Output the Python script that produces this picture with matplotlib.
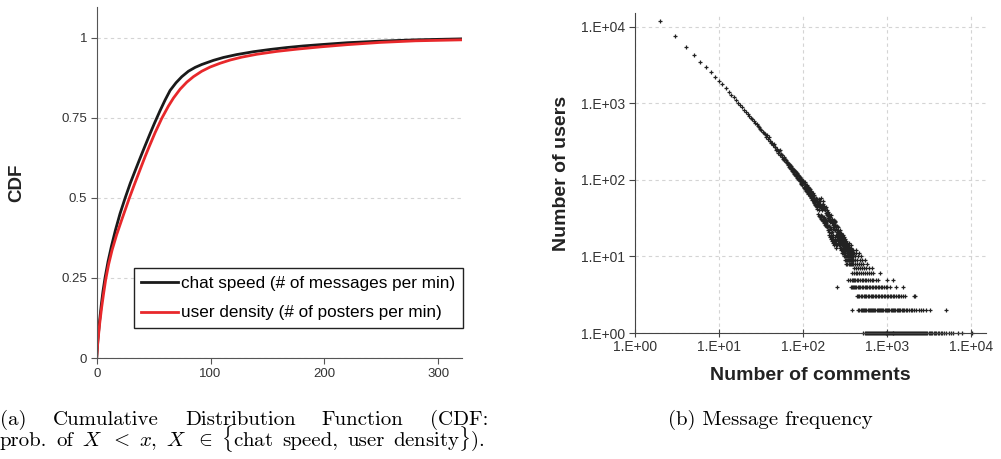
import matplotlib.pyplot as plt
import numpy as np

plt.rcParams['font.family'] = ['Liberation Sans', 'DejaVu Sans']
plt.rcParams['mathtext.fontset'] = 'cm'

# (a) CDF curves
speed_x = [0, 1, 2.5, 4, 5.5, 7.3, 10, 13, 16.5, 20.5, 25, 29.5, 34.3, 37.3, 40, 42.5, 46.9, 50.7, 55.7,
           60.1, 64.5, 69.7, 74.8, 80.6, 86.5, 92.3, 102.6, 111.4, 123, 137.8, 152.4, 167, 181.7, 196.4,
           220, 249, 280, 320]
speed_cdf = [0, 0.055, 0.115, 0.165, 0.208, 0.25, 0.302, 0.35, 0.4, 0.451, 0.5, 0.546, 0.59, 0.617, 0.641,
             0.663, 0.701, 0.733, 0.773, 0.806, 0.836, 0.86, 0.879, 0.896, 0.908, 0.917, 0.93, 0.939, 0.948,
             0.957, 0.964, 0.97, 0.975, 0.979, 0.985, 0.99, 0.994, 0.997]
density_x = [0, 1, 2.6, 4.3, 6, 7.9, 10.5, 13.5, 17.5, 22, 28.7, 33.1, 38.7, 42.5, 46.3, 51.3, 57.2, 63, 67.4,
             73.3, 79.2, 85, 92.3, 99.6, 108.5, 117.3, 127.5, 140.7, 158.3, 176, 196.4, 220, 249, 280, 320]
density_cdf = [0, 0.05, 0.107, 0.157, 0.2, 0.245, 0.293, 0.337, 0.385, 0.432, 0.5, 0.542, 0.594, 0.629, 0.662,
               0.704, 0.749, 0.787, 0.812, 0.84, 0.862, 0.879, 0.896, 0.909, 0.921, 0.931, 0.94, 0.949, 0.958,
               0.965, 0.972, 0.979, 0.986, 0.991, 0.994]
cdf_ticks = [0, 0.25, 0.5, 0.75, 1]
cdf_labels = ['0', '0.25', '0.5', '0.75', '1']
legend_labels = ['chat speed (# of messages per min)', 'user density (# of posters per min)']

# (b) number of users per comment count, comment counts 2..400
comment_counts = np.arange(2, 401)
users = [12000, 7600, 5400, 4250, 3450, 2950, 2550, 2240, 1990,
         1770, 1590, 1430, 1305, 1200, 1100, 1020, 950, 887, 832,
         780, 735, 690, 653, 618, 587, 559, 532, 508, 485,
         465, 446, 427, 411, 395, 362, 385, 340, 366, 318,
         326, 301, 305, 284, 291, 266, 270, 249, 257, 236,
         228, 241, 247, 209, 218, 199, 210, 187, 198, 180,
         190, 171, 181, 164, 172, 158, 168, 149, 161, 144,
         155, 139, 150, 131, 143, 127, 138, 136, 121, 130,
         117, 128, 112, 124, 107, 119, 104, 115, 113, 99,
         110, 96, 105, 92, 103, 88, 99, 85, 97, 94,
         97, 82, 91, 78, 88, 93, 76, 84, 71, 80,
         86, 70, 77, 81, 65, 74, 79, 67, 72, 62,
         75, 64, 69, 58, 71, 60, 66, 55, 63, 68,
         54, 61, 57, 50, 64, 52, 58, 47, 56, 53,
         49, 58, 45, 54, 51, 44, 57, 48, 42, 50,
         52, 36, 49, 40, 57, 34, 46, 53, 33, 44,
         49, 35, 46, 31, 43, 58, 34, 47, 30, 41,
         48, 31, 53, 29, 44, 33, 27, 42, 30, 45,
         26, 43, 31, 29, 40, 25, 37, 30, 44, 27,
         36, 24, 29, 40, 26, 35, 22, 32, 38, 25,
         34, 22, 30, 19, 36, 25, 21, 31, 18, 28,
         24, 33, 20, 17, 30, 23, 35, 19, 27, 16,
         29, 21, 18, 31, 24, 15, 23, 28, 17, 26,
         19, 30, 16, 24, 27, 14, 23, 18, 29, 17,
         26, 15, 22, 28, 13, 19, 25, 16, 23, 14,
         25, 19, 14, 21, 18, 4, 17, 20, 15, 22,
         19, 24, 16, 18, 21, 14, 20, 17, 18, 19,
         15, 21, 18, 13, 20, 16, 22, 14, 17, 19,
         15, 12, 18, 16, 20, 13, 17, 14, 19, 15,
         12, 17, 14, 18, 11, 16, 13, 15, 19, 12,
         16, 14, 11, 17, 13, 15, 10, 18, 12, 14,
         16, 11, 13, 9, 15, 12, 17, 10, 14, 13,
         11, 15, 9, 12, 14, 10, 16, 12, 8, 13,
         11, 14, 10, 12, 9, 15, 11, 13, 8, 12,
         10, 14, 9, 11, 13, 5, 12, 10, 15, 11,
         9, 13, 10, 12, 8, 11, 14, 9, 10, 12,
         5, 11, 13, 9, 10, 12, 8, 11, 9, 13,
         10, 4, 12, 9, 11, 8, 10, 14, 9, 6,
         11, 10, 5, 12, 9, 4, 11, 10, 8, 9,
         12, 5, 10, 9, 11, 8, 4, 10, 9, 11]

# heavy posters (> 400 comments): comment counts sharing the same small number of users
tail_levels = [1, 2, 3, 4, 5, 6, 7, 8, 9, 10, 11, 12]
tail_counts = [
    [525, 548, 561, 580, 597, 612, 634, 650, 671, 689, 702, 725, 744, 768, 781, 803, 827, 846, 870, 893,
     911, 938, 962, 985, 1004, 1033, 1061, 1087, 1112, 1140, 1168, 1195, 1223, 1257, 1290, 1318, 1352,
     1390, 1425, 1461, 1502, 1540, 1583, 1627, 1670, 1714, 1762, 1810, 1858, 1912, 1965, 2021, 2080,
     2138, 2201, 2263, 2330, 2398, 2470, 2541, 2618, 2697, 2780, 2866, 2951, 3040, 3140, 3245, 3350,
     3470, 3590, 3720, 3860, 4010, 4180, 4360, 4570, 4800, 5080, 5420, 5810, 6150, 7000, 7900, 10200],
    [380, 455, 471, 486, 503, 518, 536, 552, 569, 588, 607, 624, 645, 663, 684, 707, 728, 752, 776, 799,
     826, 853, 879, 907, 937, 968, 1001, 1035, 1068, 1104, 1142, 1181, 1220, 1263, 1307, 1350, 1398,
     1447, 1500, 1556, 1615, 1680, 1750, 1830, 1915, 2010, 2120, 2240, 2380, 2540, 2720, 2960, 3240, 5100],
    [435, 452, 470, 489, 507, 527, 548, 570, 592, 616, 640, 666, 692, 720, 749, 779, 810, 843, 877, 913,
     951, 990, 1032, 1076, 1122, 1171, 1225, 1282, 1345, 1412, 1485, 1570, 1660, 2120, 2180],
    [405, 419, 433, 449, 466, 484, 502, 521, 541, 562, 584, 607, 631, 657, 683, 712, 741, 773, 806, 842,
     880, 921, 965, 1012, 1088, 1300, 1560],
    [404, 421, 439, 458, 478, 499, 521, 545, 570, 597, 626, 657, 690, 740, 788, 1000, 1180],
    [407, 426, 446, 468, 491, 516, 543, 572, 604, 642, 688, 830],
    [410, 431, 454, 479, 506, 536, 570, 612, 658],
    [412, 436, 462, 491, 524, 572],
    [415, 443, 474, 508, 541],
    [418, 451, 497],
    [423, 462],
    [431],
]
log_ticks = [1, 10, 100, 1000, 10000]
log_labels = ['1.E+00', '1.E+01', '1.E+02', '1.E+03', '1.E+04']

caption_a1 = ['(a)', 'Cumulative', 'Distribution', 'Function', '(CDF:']
caption_a2 = ['prob.', 'of', '$X$', '$<$', '$x,$', '$X$', r'$\in$', r'$\{$chat', 'speed,', 'user',
              r'density$\}$).']
caption_b = '(b) Message frequency'

fig = plt.figure(figsize=(10.01, 4.59), dpi=100)
tick_col = '#333333'
grid_kw = dict(color='#d4d4d4', linestyle=(0, (3, 3)), linewidth=0.8)

# ---- left panel
ax1 = fig.add_axes([0.0966, 0.22, 0.365, 0.765])
ax1.plot(speed_x, speed_cdf, color='#1a1a1a', lw=2, label=legend_labels[0])
ax1.plot(density_x, density_cdf, color='#e8282b', lw=2, label=legend_labels[1])
ax1.set_xlim(0, 321)
ax1.set_ylim(0, 1.097)
ax1.set_xticks([0, 100, 200, 300])
ax1.set_yticks(cdf_ticks)
ax1.set_yticklabels(cdf_labels)
ax1.yaxis.grid(True, **grid_kw)
ax1.set_axisbelow(True)
for s in ['top', 'right']:
    ax1.spines[s].set_visible(False)
for s in ['left', 'bottom']:
    ax1.spines[s].set_color('#555555')
ax1.tick_params(direction='out', length=4, color='#555555', labelcolor=tick_col, labelsize=9.5, pad=3)
ax1.set_ylabel('CDF', fontsize=13.5, fontweight='bold', color='#222222')
ax1.yaxis.set_label_coords(-0.196, 0.5)
leg = ax1.legend(loc='lower right', bbox_to_anchor=(1.003, 0.085), fontsize=12.3, frameon=True,
                 fancybox=False, edgecolor='#222222', framealpha=1, borderaxespad=0,
                 handlelength=2.15, handletextpad=0.2, labelspacing=0.85, borderpad=0.45)
leg.get_frame().set_linewidth(1)

# ---- right panel
ax2 = fig.add_axes([0.6344, 0.2745, 0.3506, 0.697])
ax2.set_xscale('log')
ax2.set_yscale('log')
ax2.plot(comment_counts, users, '+', ms=2.6, mew=0.9, color='#222222', clip_on=False)
for lev, xs in zip(tail_levels, tail_counts):
    ax2.plot(xs, [lev] * len(xs), '+', ms=2.6, mew=0.9, color='#222222', clip_on=False)
ax2.set_xlim(1, 10 ** 4.18)
ax2.set_ylim(1, 10 ** 4.18)
ax2.set_xticks(log_ticks)
ax2.set_xticklabels(log_labels)
ax2.set_yticks(log_ticks)
ax2.set_yticklabels(log_labels)
ax2.minorticks_off()
ax2.grid(True, **grid_kw)
ax2.set_axisbelow(True)
for s in ['top', 'right']:
    ax2.spines[s].set_visible(False)
for s in ['left', 'bottom']:
    ax2.spines[s].set_color('#444444')
ax2.tick_params(axis='y', direction='out', length=4, color='#444444', labelcolor=tick_col, labelsize=10, pad=3)
ax2.tick_params(axis='x', direction='inout', length=6, color='#444444', labelcolor=tick_col, labelsize=10, pad=2)
ax2.set_ylabel('Number of users', fontsize=14, fontweight='bold', color='#222222')
ax2.yaxis.set_label_coords(-0.185, 0.5)
ax2.set_xlabel('Number of comments', fontsize=14, fontweight='bold', color='#222222')
ax2.xaxis.set_label_coords(0.5, -0.105)

# ---- captions (Computer Modern, justified like the paper)
W, H = 1001, 459
cap = dict(fontsize=15, family='cmr10', va='baseline')
renderer = fig.canvas.get_renderer()


def justified(words, base_px, x0, x1):
    texts = [fig.text(0, 1 - base_px / H, w, **cap) for w in words]
    widths = [t.get_window_extent(renderer).width for t in texts]
    gap = (x1 - x0 - sum(widths)) / (len(texts) - 1)
    x = x0
    for t, w in zip(texts, widths):
        t.set_x(x / W)
        x += w + gap


justified(caption_a1, 425, 0, 488)
justified(caption_a2, 446, 0, 485)
fig.text(668 / W, 1 - 425 / H, caption_b, **cap)

fig.savefig('out.png', dpi=100)
